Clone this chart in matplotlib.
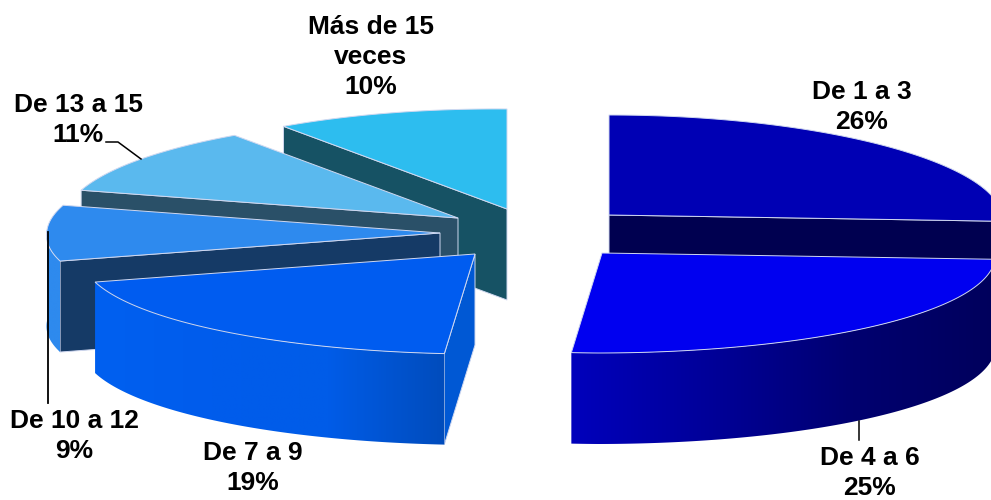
import numpy as np
import matplotlib
matplotlib.use("Agg")
import matplotlib.pyplot as plt
from matplotlib.colors import LinearSegmentedColormap
from matplotlib.patches import Polygon

categories = ["De 1 a 3", "De 4 a 6", "De 7 a 9", "De 10 a 12", "De 13 a 15", "Más de 15\nveces"]
values = [26, 25, 19, 9, 11, 10]

# pixel layout of the exploded slices
apex_x = [609, 602, 475, 440, 458, 507]
apex_y = [215, 253, 254, 233, 218, 209]
label_x = [862, 870, 253, 74, 78, 371]
label_y = [107, 473, 468, 436, 120, 57]
draw_order = [5, 4, 3, 2, 0, 1]

top_colors = ["#0000b4", "#0000f0", "#005cf0", "#2e8aee", "#5ab9ee", "#2dbdef"]
face_colors = ["#000050", "#000050", "#0058d4", "#153a66", "#2a5068", "#165264"]
rim_colors = [
    ["#0000b4", "#0000b4"],
    ["#0000bc", "#000098", "#000070", "#00005c"],
    ["#0060f0", "#005cec", "#005ce8", "#004cbc"],
    ["#2e8aee", "#2e8aee"],
    ["#5ab9ee", "#5ab9ee"],
    ["#2dbdef", "#2dbdef"],
]
edge_color = "#d0d8f0"

rx = 393
ry = 100
depth = 91
near_skew = 5
taper = 0.04
left_lift = 3

plt.rcParams["font.family"] = ["Liberation Sans", "DejaVu Sans"]

fig = plt.figure(figsize=(9.91, 5.0), dpi=100)
ax = fig.add_axes([0, 0, 1, 1])


def rim_points(cx, cy, a0, a1):
    t = np.radians(np.linspace(a0, a1, 120))
    # far side slightly narrower than the near side
    x = cx + rx * np.sin(t) * (1 - taper * np.cos(t)) + near_skew * np.minimum(np.cos(t), 0)
    y = cy - ry * np.cos(t) + left_lift * np.minimum(np.sin(t), 0)
    return np.column_stack([x, y])


def draw_face(cx, cy, a, color, z):
    p = rim_points(cx, cy, a, a)[0]
    pts = [(cx, cy), p, (p[0], p[1] + depth), (cx, cy + depth)]
    ax.add_patch(Polygon(pts, closed=True, fc=color, ec=edge_color, lw=0.7, zorder=z))


def draw_rim(cx, cy, a0, a1, colors, z):
    top = rim_points(cx, cy, a0, a1)
    bottom = top[::-1] + [0, depth]
    poly = Polygon(np.vstack([top, bottom]), closed=True, fc="none", ec="none", zorder=z)
    ax.add_patch(poly)
    cmap = LinearSegmentedColormap.from_list("rim", colors)
    grad = np.linspace(0, 1, 256).reshape(1, -1)
    ext = [top[:, 0].min(), top[:, 0].max(), bottom[:, 1].max(), top[:, 1].min()]
    im = ax.imshow(grad, cmap=cmap, extent=ext, aspect="auto", zorder=z)
    im.set_clip_path(poly)


# slice boundaries, clockwise from north
angles = np.concatenate([[0], np.cumsum(values)]) * 360.0 / sum(values)

z = 1
for i in draw_order:
    a0, a1 = angles[i], angles[i + 1]
    cx, cy = apex_x[i], apex_y[i]
    if np.sin(np.radians(a0)) < -1e-6:
        draw_face(cx, cy, a0, face_colors[i], z)
    if np.sin(np.radians(a1)) > 1e-6:
        draw_face(cx, cy, a1, face_colors[i], z)
    z += 1
    lo, hi = max(a0, 90), min(a1, 270)
    if hi > lo:
        draw_rim(cx, cy, lo, hi, rim_colors[i], z)
    z += 1
    pts = np.vstack([[cx, cy], rim_points(cx, cy, a0, a1)])
    ax.add_patch(Polygon(pts, closed=True, fc=top_colors[i], ec=edge_color, lw=0.7, zorder=z))
    z += 1

# leader lines
ax.plot([106, 118, 141], [142, 142, 159], color="black", lw=1.1, zorder=z)
ax.plot([48, 48], [232, 403], color="black", lw=1.3, zorder=z)
ax.plot([859, 859], [421, 440], color="black", lw=1.1, zorder=z)

for i, cat in enumerate(categories):
    ax.text(label_x[i], label_y[i], "{}\n{}%".format(cat, values[i]), ha="center", va="center",
            fontsize=19, fontweight="bold", linespacing=1.3, color="black", zorder=z + 1)

ax.set_xlim(0, 991)
ax.set_ylim(500, 0)
ax.axis("off")

plt.savefig("out.png", dpi=100)
